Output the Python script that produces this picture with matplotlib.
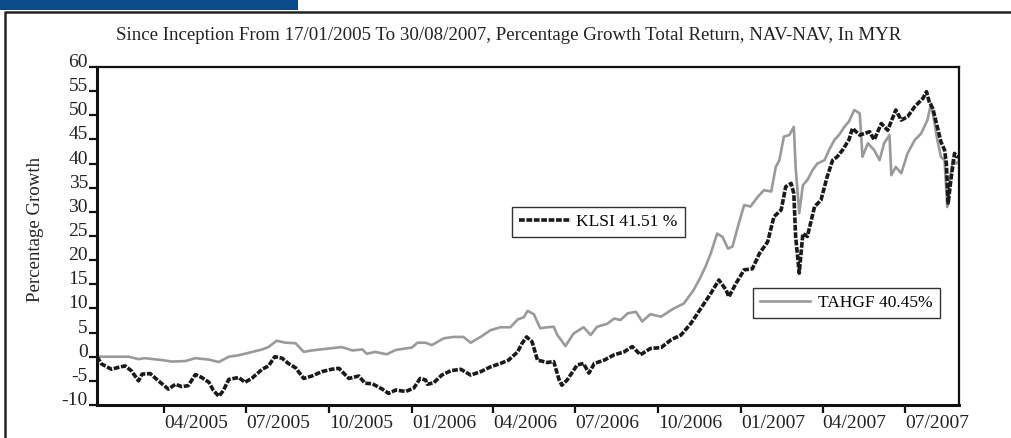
import numpy as np
import matplotlib
matplotlib.use("Agg")
import matplotlib.pyplot as plt
import matplotlib.transforms as mtrans
from matplotlib.lines import Line2D
from matplotlib.patches import Rectangle

plt.rcParams['font.family'] = ['Liberation Serif', 'DejaVu Serif']

start = np.datetime64('2005-01-17')

# days since inception
tahgf_days = [0, 35, 46, 53, 72, 83, 98, 109, 124, 135, 146, 157, 168, 183, 190, 199, 209, 220,
              229, 238, 257, 271, 283, 294, 299, 308, 321, 331, 349, 355, 364,
              371, 384, 395, 406, 414, 425, 436, 447, 458, 466, 473, 477, 484, 491, 499, 506,
              510, 514, 519, 528, 539, 547, 554, 565, 573, 580, 588, 597, 604, 613, 625,
              639, 650, 661, 669, 674, 680, 687, 693, 699, 704, 711, 717, 724, 732, 739, 747,
              752, 756, 761, 767, 772, 774, 778, 782, 787, 793, 798, 806, 811, 817, 822, 828,
              833, 839, 845, 846, 848, 854, 861, 867, 872, 878, 880, 885, 891, 898, 906, 913,
              920, 924, 928, 931, 935, 939, 942, 944, 948, 952, 955]
tahgf_vals = [0.0, 0.0, -0.5, -0.3, -0.7, -1.0, -0.9, -0.3, -0.6, -1.1, 0.0, 0.3, 0.8, 1.5, 2.0, 3.3, 2.9, 2.8,
              1.0, 1.3, 1.7, 2.0, 1.3, 1.5, 0.6, 1.0, 0.5, 1.4, 1.9, 2.9, 2.9,
              2.4, 3.8, 4.1, 4.1, 2.9, 4.1, 5.5, 6.1, 6.1, 7.7, 8.2, 9.5, 8.8, 5.9, 6.1, 6.2,
              4.5, 3.5, 2.2, 4.8, 6.1, 4.5, 6.2, 6.8, 7.9, 7.6, 9.0, 9.3, 7.3, 8.8, 8.3,
              10.0, 11.0, 13.8, 16.6, 18.6, 21.4, 25.5, 24.8, 22.4, 22.8, 27.6, 31.4, 31.1, 33.1, 34.5, 34.2,
              39.3, 40.7, 45.6, 45.9, 47.6, 39.3, 29.7, 35.5, 36.6, 38.7, 40.0, 40.7, 42.8, 44.9, 45.9, 47.6,
              48.7, 51.1, 50.4, 47.6, 41.4, 44.2, 42.8, 40.7, 44.2, 45.9, 37.6, 39.3, 38.0, 42.1, 44.9, 46.2,
              49.0, 52.5, 48.3, 44.9, 41.4, 40.7, 31.0, 35.2, 40.7, 40.0, 40.45]

klsi_days = [0, 5, 16, 24, 31, 38, 46, 50, 59, 68, 79, 87, 94, 101, 109, 116, 124, 129, 135, 140,
             146, 157, 164, 172, 183, 190, 197, 205, 212, 220, 229, 238, 249, 260, 268, 279, 290,
             297, 305, 316, 323, 331, 342, 351, 358, 364,
             366, 373, 382, 392, 403, 414, 425, 436, 447, 456, 466, 471, 476, 482, 488, 499, 506,
             512, 515, 521, 532, 539, 545, 551, 562, 573, 584, 593, 602, 613, 625,
             636, 647, 658, 669, 680, 689, 697, 700, 708, 717, 726, 734, 743, 750, 758, 763, 769,
             772, 774, 778, 782, 787, 795, 802, 809, 815, 820, 826, 833, 837, 845, 856, 861, 869,
             876, 885, 891, 898, 906, 915, 919, 922, 926, 930, 935, 939, 941, 943, 946, 950, 953, 955]
klsi_vals = [0.0, -1.5, -2.6, -2.2, -1.9, -2.9, -5.0, -3.6, -3.5, -5.0, -6.7, -5.7, -6.2, -6.0, -3.7, -4.3, -5.3, -7.0, -8.2, -7.0,
             -4.7, -4.3, -5.3, -4.4, -2.6, -1.9, 0.0, -0.3, -1.4, -2.3, -4.5, -4.0, -3.1, -2.6, -2.4, -4.5, -4.0,
             -5.5, -5.6, -6.7, -7.6, -6.9, -7.2, -6.5, -4.5, -4.8,
             -5.7, -5.4, -3.8, -2.9, -2.6, -3.8, -3.1, -2.1, -1.4, -0.7, 1.0, 2.8, 4.1, 3.1, -0.7, -1.2, -1.0,
             -4.8, -5.9, -4.8, -1.7, -1.4, -3.4, -1.4, -0.7, 0.4, 1.0, 2.1, 0.4, 1.7, 1.9,
             3.5, 4.5, 6.9, 10.0, 13.1, 15.9, 13.8, 12.4, 15.2, 18.0, 18.2, 21.4, 23.8, 29.0, 30.4, 35.2, 35.9,
             33.8, 24.9, 17.3, 25.5, 24.9, 31.1, 32.4, 37.3, 40.7, 41.4, 42.8, 44.9, 47.3, 45.9, 46.6, 44.9, 48.3,
             46.9, 51.1, 49.0, 49.7, 51.8, 53.5, 54.9, 52.8, 51.4, 48.3, 44.5, 42.8, 40.0, 31.8, 36.6, 42.1, 41.4, 41.51]

tick_labels = ['04/2005', '07/2005', '10/2005', '01/2006', '04/2006', '07/2006',
               '10/2006', '01/2007', '04/2007', '07/2007']
tick_dates = ['2005-04-01', '2005-07-01', '2005-10-01', '2006-01-01', '2006-04-01', '2006-07-01',
              '2006-10-01', '2007-01-01', '2007-04-01', '2007-07-01']

klsi_x = start + np.array(klsi_days).astype('timedelta64[D]')
tahgf_x = start + np.array(tahgf_days).astype('timedelta64[D]')

W, H = 1012, 438
fig = plt.figure(figsize=(W / 100, H / 100), dpi=100)

# decorative header bar and outer frame
fig.patches.append(Rectangle((0, 1 - 10 / H), 298 / W, 10 / H, transform=fig.transFigure,
                             facecolor='#0a4b8c', edgecolor='none'))
fig.lines.append(Line2D([5 / W, 5 / W, 1.0], [0, 1 - 12 / H, 1 - 12 / H], transform=fig.transFigure,
                        color='#222222', lw=1.8))

ax = fig.add_axes([97 / W, 33 / H, 862 / W, 338 / H])

KLSI_STYLE = dict(color='#1a1a1a', lw=2.6, linestyle=(0, (1.6, 0.45)))
ax.plot(tahgf_x, tahgf_vals, color='#9a9a9a', lw=1.9)
ax.plot(klsi_x, klsi_vals, **KLSI_STYLE)

ax.set_xlim(start, start + np.timedelta64(955, 'D'))
ax.set_ylim(-10, 60)
ax.set_yticks(np.arange(-10, 61, 5))
ax.set_yticklabels([str(v) for v in range(-10, 61, 5)], fontsize=14, va='baseline')

ax.set_xticks([np.datetime64(d) for d in tick_dates])
ax.set_xticklabels(tick_labels, fontsize=14, ha='left')
offset = mtrans.ScaledTranslation(3 / 100, 0, fig.dpi_scale_trans)
for lbl in ax.get_xticklabels():
    lbl.set_transform(lbl.get_transform() + offset)

ax.tick_params(axis='x', direction='out', length=6, width=1.6, pad=1, color='#111111', labelcolor='#222222')
ax.tick_params(axis='y', direction='out', length=6, width=1.6, pad=0.5, color='#111111', labelcolor='#222222')

for s in ['left', 'bottom']:
    ax.spines[s].set_linewidth(2.2)
    ax.spines[s].set_color('#111111')
for s in ['top', 'right']:
    ax.spines[s].set_linewidth(1.6)
    ax.spines[s].set_color('#111111')

fig.text(35 / W, 1 - 229 / H, 'Percentage Growth', rotation=90, fontsize=13.6,
         ha='center', va='center', color='#222222')
fig.text(509 / W, 1 - 35 / H,
         'Since Inception From 17/01/2005 To 30/08/2007, Percentage Growth Total Return, NAV-NAV, In MYR',
         fontsize=13.6, ha='center', va='center', color='#222222')

h1 = Line2D([], [], **KLSI_STYLE)
h2 = Line2D([], [], color='#9a9a9a', lw=1.9)
leg1 = ax.legend([h1], ['KLSI 41.51 %'], loc='upper left',
                 bbox_to_anchor=(512 / W, 1 - 207 / H), bbox_transform=fig.transFigure,
                 fontsize=12.5, frameon=True, fancybox=False, framealpha=1, edgecolor='#333333',
                 borderpad=0.4, handlelength=3.0, handletextpad=0.3, borderaxespad=0)
leg1.get_frame().set_linewidth(1.0)
ax.add_artist(leg1)
leg2 = ax.legend([h2], ['TAHGF 40.45%'], loc='upper left',
                 bbox_to_anchor=(753 / W, 1 - 288 / H), bbox_transform=fig.transFigure,
                 fontsize=12.5, frameon=True, fancybox=False, framealpha=1, edgecolor='#333333',
                 borderpad=0.4, handlelength=2.9, handletextpad=0.45, borderaxespad=0)
leg2.get_frame().set_linewidth(1.0)

fig.savefig('out.png', dpi=100)
